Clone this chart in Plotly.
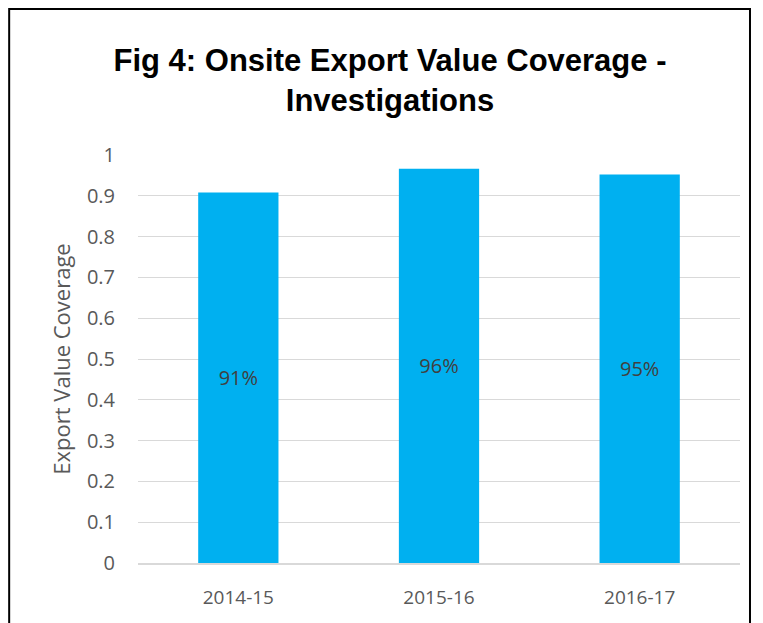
import plotly.graph_objects as go

categories = ["2014-15", "2015-16", "2016-17"]
values = [0.908, 0.966, 0.952]
labels = ["91%", "96%", "95%"]
y_ticks = [0, 0.1, 0.2, 0.3, 0.4, 0.5, 0.6, 0.7, 0.8, 0.9, 1]
y_tick_text = ["0", "0.1", "0.2", "0.3", "0.4", "0.5", "0.6", "0.7", "0.8", "0.9", "1"]

fig = go.Figure(go.Bar(
    x=categories, y=values, text=labels,
    textposition="inside", insidetextanchor="middle",
    textfont=dict(family="Open Sans", size=20, color="#404040"),
    marker=dict(color="#00B0F0", line=dict(width=0)),
    cliponaxis=False,
))

fig.update_layout(
    width=755, height=615,
    margin=dict(l=130, r=23, t=147, b=60),
    paper_bgcolor="white", plot_bgcolor="white",
    bargap=0.6,
    showlegend=False,
    title=dict(
        text="Fig 4: Onsite Export Value Coverage -<br>Investigations",
        x=382 / 755, xanchor="center", xref="container",
        y=1 - 63 / 615, yanchor="middle", yref="container",
        font=dict(family="Liberation Sans", size=31, color="black", weight="bold"),
    ),
    shapes=[dict(type="rect", xref="paper", yref="paper",
                 x0=-0.214, x1=1.0166, y0=-0.3, y1=1.358,
                 line=dict(color="black", width=2), fillcolor="rgba(0,0,0,0)")],
)
fig.update_yaxes(
    range=[0, 1], tickvals=y_ticks, ticktext=y_tick_text,
    showgrid=True, gridcolor="#D9D9D9", gridwidth=1,
    zeroline=False, showline=False,
    tickfont=dict(family="Open Sans", size=20, color="#595959"),
    ticklabelstandoff=22,
    title=dict(text="Export Value Coverage", standoff=10,
               font=dict(family="Open Sans", size=22, color="#595959")),
)
fig.update_xaxes(
    showline=True, linecolor="#D9D9D9", linewidth=2,
    tickfont=dict(family="Open Sans", size=19, color="#595959"),
    ticklabelstandoff=16, ticks="",
)

fig.write_html("out.html")
